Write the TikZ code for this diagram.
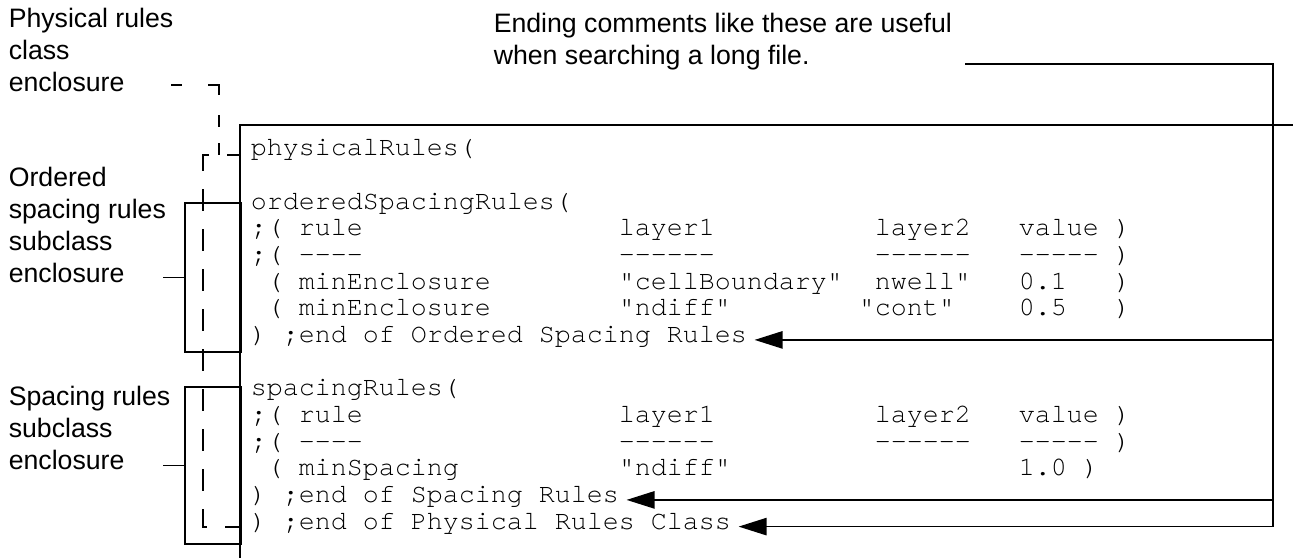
\documentclass[tikz,border=0pt]{standalone}
\usepackage{fontspec}
\setmainfont{Liberation Sans}
\setmonofont{TeX Gyre Cursor}[Ligatures=CommonOff]
\usetikzlibrary{arrows.meta}
% one monospace cell at 20pt
\newlength\codechar
\setlength\codechar{12pt}
\newcommand\sk[1]{\kern#1\codechar}
\newcommand\lines[1]{\begin{tabular}[t]{@{}l@{}}#1\end{tabular}}

\begin{document}
\begin{tikzpicture}[x=0.75pt,y=-0.75pt,line width=1.2pt,
  lab/.style={inner sep=0pt,anchor=base west,font=\fontsize{20}{24}\selectfont},
  code/.style={inner sep=0pt,anchor=base west,font=\ttfamily\fontsize{20}{20}\selectfont},
  bracket/.style={draw,inner sep=0pt,minimum width=42pt,anchor=north west},
  tip/.style={-{Triangle[length=21pt,width=13pt]}},
  classdash/.style={dash pattern=on 8.25pt off 19.5pt on 15.75pt off 15pt on 9pt off 12pt on 10.5pt off 15pt},
  encldash/.style={dash pattern=on 16.5pt off 13.5pt,dash phase=6.75pt}]
\useasboundingbox (0,0) rectangle (1293,558);

% side labels and the note
\node[lab] (physlab) at (8,27) {\lines{Physical rules\\class\\enclosure}};
\node[lab] (ordlab) at (8,186) {\lines{Ordered\\spacing rules\\subclass\\enclosure}};
\node[lab] (spclab) at (8,405) {\lines{Spacing rules\\subclass\\enclosure}};
\node[lab] (note) at (493,32) {\lines{Ending comments like these are useful\\when searching a long file.}};

% the code listing, one node per line
\node[code] (r0)  at (250,155.7) {physicalRules(};
\node[code] (r2)  at (250,209.0) {orderedSpacingRules(};
\node[code] (r3)  at (250,235.7) {;( rule\sk{16}layer1\sk{10}layer2\sk{3}value )};
\node[code] (r4)  at (250,262.4) {;( ----\sk{16}------\sk{10}------\sk{3}----- )};
\node[code] (r5)  at (250,289.1) {\sk{1}( minEnclosure\sk{8}"cellBoundary"\sk{2}nwell"\sk{3}0.1\sk{3})};
\node[code] (r6)  at (250,315.7) {\sk{1}( minEnclosure\sk{8}"ndiff"\sk{8}"cont"\sk{4}0.5\sk{3})};
\node[code] (r7)  at (250,342.4) {) ;end of Ordered Spacing Rules};
\node[code] (r9)  at (250,395.7) {spacingRules(};
\node[code] (r10) at (250,422.4) {;( rule\sk{16}layer1\sk{10}layer2\sk{3}value )};
\node[code] (r11) at (250,449.1) {;( ----\sk{16}------\sk{10}------\sk{3}----- )};
\node[code] (r12) at (250,475.7) {\sk{1}( minSpacing\sk{10}"ndiff"\sk{18}1.0 )};
\node[code] (r13) at (250,502.4) {) ;end of Spacing Rules};
\node[code] (r14) at (250,529.1) {) ;end of Physical Rules Class};

% file frame
\coordinate (boxtl) at (240,125);
\draw (1293,125) -- (boxtl) -- (240,558);

% subclass enclosures
\node[bracket,minimum height=111.75pt] (ordbox) at (184,202) {};
\node[bracket,minimum height=117.75pt] (spcbox) at (184,386) {};
\draw (ordbox.west) -- ++(-21,0);
\draw (spcbox.west) -- ++(-21,0);

% class enclosure
\coordinate (clstart) at (171,85);
\coordinate (cltop) at (240,155);
\coordinate (clbot) at (240,527);
\draw[classdash] (clstart) -| (219,155);
\draw[encldash] (cltop) -- (203,155) -- (203,527) -- (clbot);

% ending-comment pointers
\coordinate (ntail) at (965,64);
\coordinate (rtop) at (1273,64);
\coordinate (e7) at ([shift={(7,-2.5)}]r7.base east);
\coordinate (e13) at ([shift={(7,-2.5)}]r13.base east);
\coordinate (e14) at ([shift={(7,-2.5)}]r14.base east);
\draw[tip] (ntail) -- (rtop) |- (e14);
\draw[tip] (rtop |- e7) -- (e7);
\draw[tip] (rtop |- e13) -- (e13);
\end{tikzpicture}
\end{document}
